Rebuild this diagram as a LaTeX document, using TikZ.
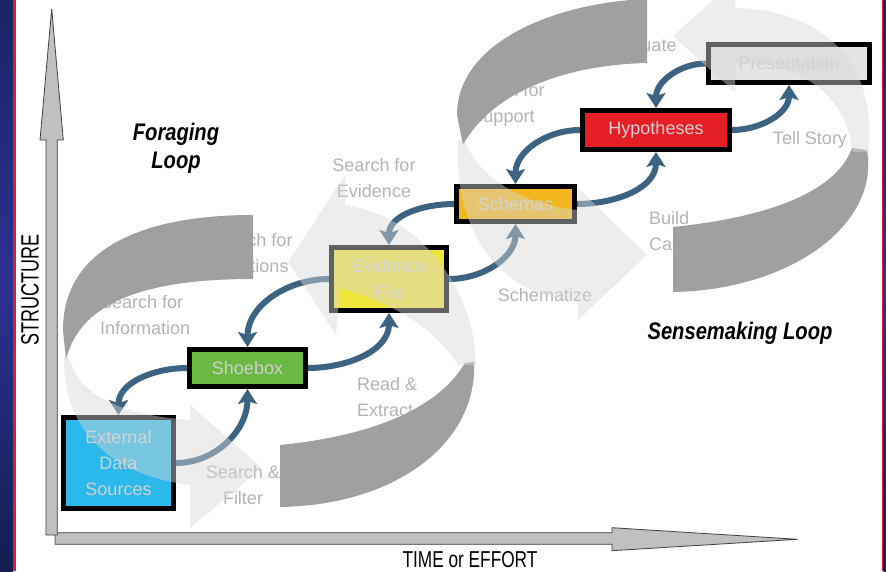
\documentclass[tikz,border=0pt]{standalone}
\usepackage{fontspec}
\setmainfont{Liberation Sans}
\usetikzlibrary{arrows.meta}

\definecolor{navy}{HTML}{1C2266}
\definecolor{navylight}{HTML}{2E3192}
\definecolor{edgered}{HTML}{D8202A}
\definecolor{bandgray}{HTML}{A0A0A0}
\definecolor{hazegray}{HTML}{D8D8D8}
\definecolor{steptext}{HTML}{B4B4B4}
\definecolor{boxtext}{HTML}{D0D0D0}
\definecolor{linkblue}{HTML}{3C6482}
\definecolor{extblue}{HTML}{2BB8EA}
\definecolor{shoegreen}{HTML}{6BB843}
\definecolor{evidyellow}{HTML}{EEE43A}
\definecolor{schemaorange}{HTML}{F2B71E}
\definecolor{hypred}{HTML}{E61F26}
\definecolor{presgray}{HTML}{E4E4E4}
\definecolor{axisgray}{HTML}{C0C0C0}

\begin{document}
\begin{tikzpicture}[x=1pt,y=1pt,
  stage/.style={draw=black, line width=5pt, text=boxtext, align=center, inner sep=0pt,
    font=\fontsize{18}{26}\selectfont},
  link/.style={draw=linkblue, line width=6pt, -{Stealth[width=19pt,length=15pt,inset=3pt]}},
  haze/.style={fill=hazegray, fill opacity=0.45},
  band/.style={fill=bandgray},
  steplabel/.style={text=steptext, align=center, inner sep=0pt, font=\fontsize{18}{26}\selectfont}]

\useasboundingbox (0,0) rectangle (886,571);
\clip (0,0) rectangle (886,571);
\fill[white] (0,0) rectangle (886,571);

\shade[top color=navy, bottom color=navy!80!black, middle color=navylight] (0,0) rectangle (13,571);
\fill[edgered] (13,0) rectangle (15.5,571);
\fill[edgered] (881.5,0) rectangle (883.5,571);
\shade[top color=navy, bottom color=navy!80!black, middle color=navylight] (883.5,0) rectangle (886,571);

\draw[fill=axisgray, draw=black!75, line width=0.8pt] (55,38.3) -- (612,38.3) -- (612,43.3) -- (797.5,31.7) -- (612,20.3) -- (612,26.7) -- (55,26.7) -- cycle;
\draw[fill=axisgray, draw=black!75, line width=0.8pt] (46,36) -- (46,431) -- (40,431) -- (51.7,562) -- (63.3,431) -- (57.3,431) -- (57.3,36) -- cycle;

\node[steplabel, align=left, anchor=west] (info) at (100,255.5) {Search for\\Information};
\node[steplabel] (relations) at (251,318) {Search for\\Relations};
\node[steplabel] (evidence) at (374,392.5) {Search for\\Evidence};
\node[steplabel] (support) at (503,466) {Search for\\Support};
\node[steplabel] (reeval) at (631,526) {Reevaluate};
\node[steplabel] (story) at (810,431) {Tell Story};
\node[steplabel, align=left, anchor=west] (build) at (649,340) {Build\\Case};
\node[steplabel] (schematize) at (545,276) {Schematize};
\node[steplabel, align=left, anchor=west] (extract) at (357,173.5) {Read \&\\Extract};
\node[steplabel] (filter) at (243,85.5) {Search \&\\Filter};

\fill[band] (253,356) .. controls (140,356) and (63,321) .. (63,241) -- (66,211) .. controls (80,271) and (150,292) .. (253,292) -- cycle;
\fill[band] (280,126) .. controls (380,136) and (440,166) .. (465,208) -- (474,209) .. controls (478,131) and (400,66) .. (280,64) -- cycle;
\fill[band] (647,572) .. controls (560,569) and (457,531) .. (457,456) -- (463,426) .. controls (490,476) and (560,506) .. (647,508) -- cycle;
\fill[band] (673,344) .. controls (760,353) and (835,376) .. (852,423) -- (867,421) .. controls (880,346) and (790,281) .. (673,279) -- cycle;

\node[stage, fill=extblue, minimum width=110pt, minimum height=91pt] (ext) at (118.5,108) {External\\Data\\Sources};
\node[stage, fill=shoegreen, minimum width=116pt, minimum height=37pt] (shoebox) at (247.5,203) {Shoebox};
\node[stage, fill=evidyellow, minimum width=115pt, minimum height=63pt] (evid) at (389,292) {Evidence\\File};
\node[stage, fill=schemaorange, minimum width=118pt, minimum height=35pt] (schemas) at (515.5,367) {Schemas};
\node[stage, fill=hypred, minimum width=147pt, minimum height=39pt] (hyp) at (656,441) {Hypotheses};
\node[stage, fill=presgray, minimum width=161pt, minimum height=38pt] (pres) at (789,507.5) {Presentation};

\draw[link] (ext.east) to[out=0,in=-90] (shoebox.south);
\draw[link] (shoebox.west) to[out=180,in=90] (ext.north);
\draw[link] (shoebox.east) to[out=0,in=-90] (evid.south);
\draw[link] (evid.west) to[out=180,in=90] (shoebox.north);
\draw[link] (evid.east) to[out=0,in=-90] (schemas.south);
\draw[link] (schemas.west) to[out=180,in=90] (evid.north);
\draw[link] (schemas.east) to[out=0,in=-90] (hyp.south);
\draw[link] (hyp.west) to[out=180,in=90] (schemas.north);
\draw[link] (hyp.east) to[out=0,in=-90] (pres.south);
\draw[link] (pres.west) to[out=180,in=90] (hyp.north);

\fill[haze] (64,216) .. controls (62,141) and (110,96) .. (190,86) -- (190,43) -- (262,103) -- (190,166) -- (190,151) .. controls (120,156) and (80,176) .. (70,211) -- cycle;
\fill[haze] (458,206) .. controls (430,251) and (380,271) .. (340,283) -- (336,236) -- (288,309) -- (345,396) -- (345,366) .. controls (420,356) and (475,281) .. (476,206) -- cycle;
\fill[haze] (458,431) .. controls (452,331) and (510,271) .. (578,271) -- (578,251) -- (647,316) -- (578,383) -- (578,361) .. controls (520,366) and (478,396) .. (466,428) -- cycle;
\fill[haze] (852,419) .. controls (848,476) and (800,509) .. (735,509) -- (735,479) -- (673,535) -- (735,591) -- (735,563) .. controls (830,561) and (878,501) .. (868,419) -- cycle;

\node (structure) at (30,281) {\rotatebox{90}{\scalebox{0.72}[1]{\fontsize{25}{30}\selectfont STRUCTURE}}};
\node (effort) at (470,11) {\scalebox{0.75}[1]{\fontsize{23}{28}\selectfont TIME or EFFORT}};
\node[align=center, font=\fontsize{24}{28}\selectfont\bfseries\itshape] (foraging) at (176,423) {\scalebox{0.84}[1]{Foraging}\\\scalebox{0.84}[1]{Loop}};
\node[font=\fontsize{24}{28}\selectfont\bfseries\itshape] (sensemaking) at (740,238) {\scalebox{0.84}[1]{Sensemaking Loop}};
\end{tikzpicture}
\end{document}
